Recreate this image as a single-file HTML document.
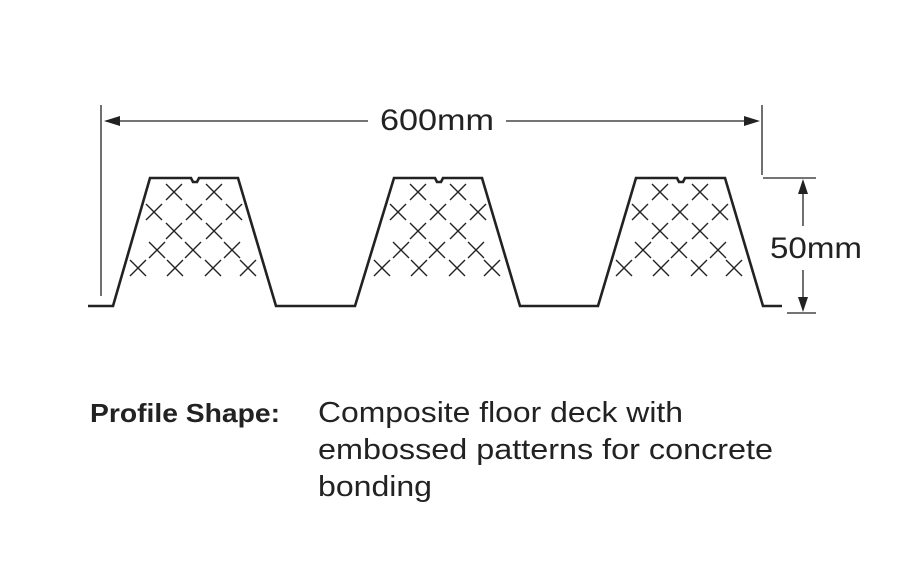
<!DOCTYPE html>
<html><head><meta charset="utf-8"><style>html,body{margin:0;padding:0;background:#fff}svg{display:block}</style></head><body>
<svg width="904" height="587" viewBox="0 0 904 587" xmlns="http://www.w3.org/2000/svg" font-family="Liberation Sans, sans-serif">
<rect width="904" height="587" fill="#fff"/>
<g stroke="#222" stroke-width="1.3" fill="none">
<line x1="101" y1="105" x2="101" y2="296"/>
<line x1="762" y1="105" x2="762" y2="175"/>
<line x1="106" y1="121" x2="368" y2="121"/>
<line x1="506" y1="121" x2="757" y2="121"/>
<line x1="763" y1="178" x2="816" y2="178"/>
<line x1="787" y1="313" x2="816" y2="313"/>
<line x1="803" y1="183" x2="803" y2="226"/>
<line x1="803" y1="270" x2="803" y2="308"/>
</g>
<g fill="#222">
<polygon points="104,121 120,116 120,126"/>
<polygon points="760,121 744,116 744,126"/>
<polygon points="803,179 798,194 808,194"/>
<polygon points="803,312 798,297 808,297"/>
</g>
<text x="437" y="130" font-size="30" text-anchor="middle" fill="#222" textLength="114" lengthAdjust="spacingAndGlyphs">600mm</text>
<text x="770" y="258" font-size="30" fill="#222" textLength="92" lengthAdjust="spacingAndGlyphs">50mm</text>
<path d="M88,306 L113,306 L150,178 L191,178 L193,182 L197,182 L199,178 L238,178 L276,306 L355,306 L394,178 L435,178 L437,182 L441,182 L443,178 L482,178 L520,306 L598,306 L636,178 L677,178 L679,182 L683,182 L685,178 L725,178 L763,306 L782,306" stroke="#222" stroke-width="2.6" fill="none" stroke-linejoin="miter"/>
<defs>
<g id="x"><path d="M-8,-8 L8,8 M8,-8 L-8,8" stroke="#222" stroke-width="1.4"/></g>
<g id="h">
<use href="#x" x="24" y="192"/><use href="#x" x="64" y="192"/>
<use href="#x" x="4" y="212"/><use href="#x" x="44" y="212"/><use href="#x" x="84" y="212"/>
<use href="#x" x="24" y="231"/><use href="#x" x="64" y="231"/>
<use href="#x" x="7" y="250"/><use href="#x" x="43" y="250"/><use href="#x" x="82" y="250"/>
<use href="#x" x="-12" y="268"/><use href="#x" x="25" y="268"/><use href="#x" x="63" y="268"/><use href="#x" x="98" y="268"/>
</g>
</defs>
<use href="#h" x="150" y="0"/>
<use href="#h" x="394" y="0"/>
<use href="#h" x="636" y="0"/>
<text x="90" y="422" font-size="26" font-weight="bold" fill="#222" textLength="190" lengthAdjust="spacingAndGlyphs">Profile Shape:</text>
<g font-size="29" fill="#222">
<text x="318" y="422" textLength="365" lengthAdjust="spacingAndGlyphs">Composite floor deck with</text>
<text x="318" y="459" textLength="455" lengthAdjust="spacingAndGlyphs">embossed patterns for concrete</text>
<text x="318" y="496" textLength="114" lengthAdjust="spacingAndGlyphs">bonding</text>
</g>
</svg>
</body></html>
